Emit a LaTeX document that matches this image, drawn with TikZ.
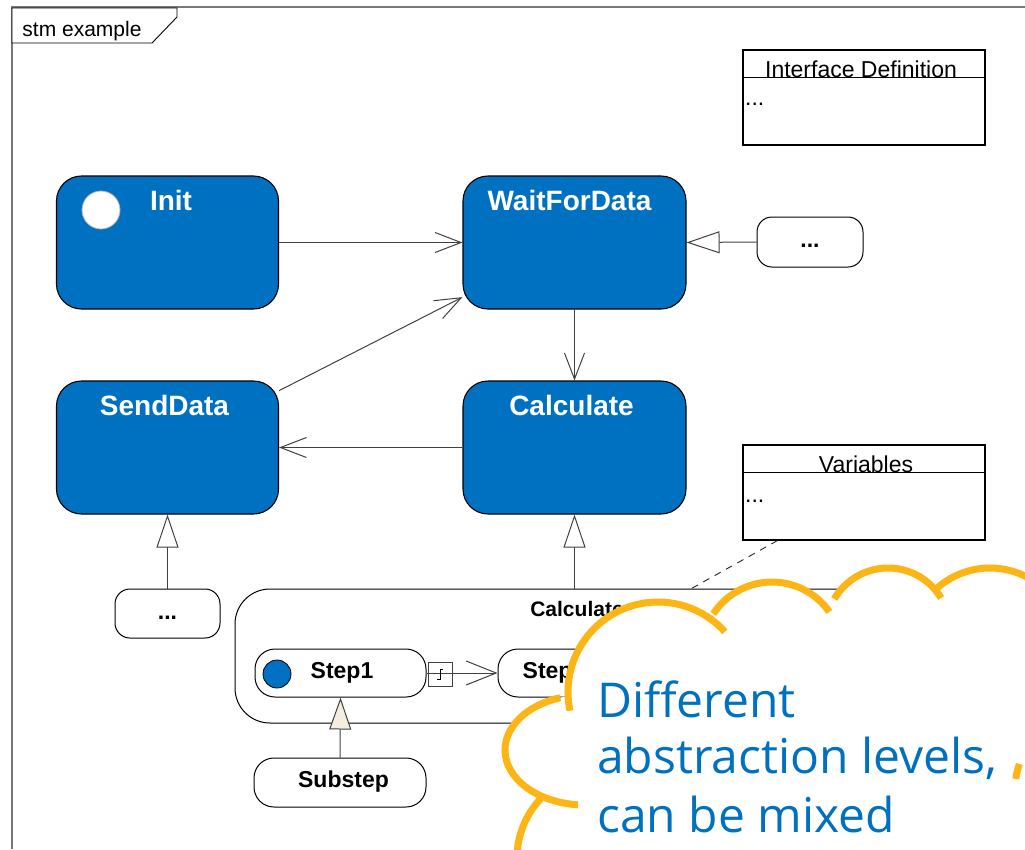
\documentclass[tikz,border=0pt]{standalone}
\usepackage{fontspec}
\setmainfont{Liberation Sans}
\newfontfamily\cloudfont{Open Sans}
\usetikzlibrary{arrows.meta,calc}
\definecolor{stateblue}{RGB}{0,112,192}
\definecolor{cloudorange}{RGB}{252,181,20}
\definecolor{tribeige}{RGB}{245,238,224}
\definecolor{framegray}{RGB}{120,120,120}
\definecolor{linegray}{RGB}{64,64,64}

\begin{document}
\begin{tikzpicture}[x=1pt,y=-1pt,
  bluestate/.style={draw=black, line width=1.1pt, fill=stateblue, rounded corners=25pt, inner sep=0pt},
  bluelabel/.style={text=white, font=\bfseries\fontsize{28}{32}\selectfont, inner sep=0pt, anchor=base},
  whitestate/.style={draw=black, line width=1pt, fill=white, inner sep=0pt},
  boldtext/.style={font=\bfseries\fontsize{23}{26}\selectfont, inner sep=0pt, anchor=base},
  plaintext/.style={font=\fontsize{23}{26}\selectfont, inner sep=0pt, anchor=base},
  compartment/.style={draw=black, line width=1.1pt, fill=white, inner sep=0pt},
  trans/.style={draw=linegray, line width=1pt, -{Straight Barb[length=26pt,width=20pt]}},
  steptrans/.style={draw=linegray, line width=1pt, -{Straight Barb[length=30pt,width=24pt]}},
  gen/.style={draw=linegray, line width=1pt, -{Triangle[length=33pt,width=22pt,fill=white]}},
  cloudline/.style={draw=cloudorange, line width=7pt},
  cloudtext/.style={text=stateblue, font=\cloudfont\fontsize{48}{56}\selectfont, inner sep=0pt, anchor=base west}
]
\useasboundingbox (0,0) rectangle (1025,849);

% diagram frame and its name tab
\draw[framegray, line width=1.3pt] (12,849) -- (12,7) -- (1025,7);
\draw[black, line width=0.9pt, fill=white] (12,8) -- (177,8) -- (177,17) -- (152,43) -- (12,43) -- cycle;
\node[font=\fontsize{21}{24}\selectfont, inner sep=0pt, anchor=base] (frametitle) at (82,36) {stm example};

% compartment boxes
\node[compartment, minimum width=242pt, minimum height=95pt] (iface) at (864,97.5) {};
\draw[line width=1.1pt] ($(iface.north west)+(0,28)$) -- ($(iface.north east)+(0,28)$);
\node[plaintext] (ifacename) at (861,77) {Interface Definition};
\node[plaintext, anchor=base west] (ifacebody) at (745,105) {...};

\node[compartment, minimum width=242pt, minimum height=95pt] (vars) at (864,492.5) {};
\draw[line width=1.1pt] ($(vars.north west)+(0,28)$) -- ($(vars.north east)+(0,28)$);
\node[plaintext] (varsname) at (866,472) {Variables};
\node[plaintext, anchor=base west] (varsbody) at (745,502) {...};

% top level states
\node[bluestate, minimum width=222pt, minimum height=133pt] (init) at (167.5,242.5) {};
\node[bluelabel] (initname) at (171,210) {Init};
\node[circle, fill=white, draw=black!30, line width=0.8pt, minimum size=38pt, inner sep=0pt] (initdot) at (101,210) {};

\node[bluestate, minimum width=223pt, minimum height=133pt] (wfd) at (574.5,242.5) {};
\node[bluelabel] (wfdname) at (569.5,210) {WaitForData};

\node[bluestate, minimum width=222pt, minimum height=133pt] (send) at (167.5,447.5) {};
\node[bluelabel] (sendname) at (164.5,415) {SendData};

\node[bluestate, minimum width=223pt, minimum height=133pt] (calc) at (574.5,447.5) {};
\node[bluelabel] (calcname) at (571.5,415) {Calculate};

% placeholder states
\node[whitestate, rounded corners=15pt, minimum width=106pt, minimum height=50pt] (dotsr) at (810,242) {};
\node[boldtext] (dotsrname) at (810,247) {...};
\node[whitestate, rounded corners=15pt, minimum width=105pt, minimum height=49pt] (dotsl) at (167.5,613.5) {};
\node[boldtext] (dotslname) at (167.5,619) {...};

% transitions
\draw[trans] (init.east) -- (wfd.west);
\draw[trans] (send.27.4) -- (wfd.206.5);
\draw[trans] (calc.west) -- (send.east);
\draw[trans] (wfd.south) -- (calc.north);

% refinements
\draw[gen] (dotsr.west) -- (wfd.east);
\draw[gen] (dotsl.north) -- (send.south);

% composite state
\node[whitestate, rounded corners=35pt, minimum width=685pt, minimum height=134pt] (comp) at (577.5,656) {};
\node[boldtext, font=\bfseries\fontsize{21}{24}\selectfont] (compname) at (577,616) {Calculate};
\draw[gen] (comp.north -| calc.south) -- (calc.south);
\draw[black!85, line width=0.9pt, dash pattern=on 7pt off 6pt] ($(vars.south west)+(35,0)$) -- ($(comp.north west)+(457,0)$);

\node[whitestate, rounded corners=20pt, minimum width=171pt, minimum height=48pt] (step1) at (340.5,673) {};
\node[boldtext] (step1name) at (342,678) {Step1};
\node[circle, fill=stateblue, draw=black, line width=0.8pt, minimum size=28pt, inner sep=0pt] (step1dot) at (277,674) {};

\node[whitestate, rounded corners=20pt, minimum width=112pt, minimum height=48pt] (step2) at (554,673) {};
\node[boldtext] (step2name) at (554,678) {Step2};

\draw[steptrans] (step1.east) -- (step2.west);
\node[draw=linegray, line width=0.8pt, minimum size=24pt, inner sep=0pt] (guard) at (440,674) {};
\draw[line width=0.8pt] ($(guard.center)+(-3,5.5)$) -- ++(3,0) -- ++(0,-10) -- ++(3,0);

\node[whitestate, rounded corners=20pt, minimum width=172pt, minimum height=49pt] (substep) at (340,782.5) {};
\node[boldtext] (substepname) at (343.5,787) {Substep};
\draw[draw=linegray, line width=1pt, -{Triangle[length=32pt,width=22pt,fill=tribeige]}] (substep.north) -- (step1.south);

% callout cloud: white body, then the orange bulb outlines
\fill[white] (658,692) circle[radius=90];
\fill[white] (772,652) circle[radius=70];
\fill[white] (888,630) circle[radius=62];
\fill[white] (990,648) circle[radius=80];
\fill[white] (585,750) ellipse[x radius=80, y radius=55];
\fill[white] (603,858) circle[radius=86];
\fill[white] (600,700) -- (720,640) -- (830,620) -- (1025,620) -- (1025,849) -- (560,849) -- (570,760) -- cycle;

\draw[cloudline] (658,692) ++(168:90) arc[start angle=168, end angle=318, radius=90];
\draw[cloudline] (772,652) ++(213:70) arc[start angle=213, end angle=325, radius=70];
\draw[cloudline] (888,630) ++(210:62) arc[start angle=210, end angle=329, radius=62];
\draw[cloudline] (990,648) ++(226:80) arc[start angle=226, end angle=300, radius=80];
\draw[cloudline] (585,750) ++(252:80 and 55) arc[start angle=252, end angle=95, x radius=80, y radius=55];
\draw[cloudline] (603,858) ++(224:86) arc[start angle=224, end angle=160, radius=86];
\draw[cloudline] (1095,790) ++(188:80) arc[start angle=188, end angle=199, radius=80];

\node[cloudtext] (note1) at (597,717) {Different};
\node[cloudtext] (note2) at (597,773) {abstraction levels,};
\node[cloudtext] (note3) at (597,832) {can be mixed};
\end{tikzpicture}
\end{document}
